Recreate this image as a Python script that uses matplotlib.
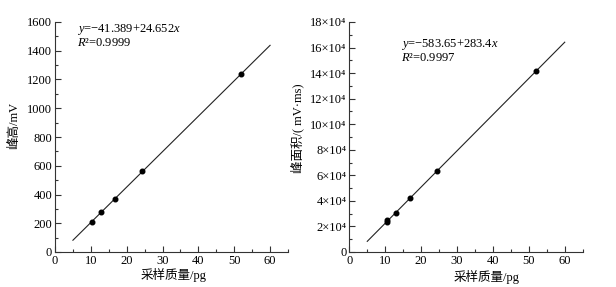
import matplotlib
matplotlib.use("Agg")
import matplotlib.pyplot as plt
import numpy as np
from matplotlib.ticker import MultipleLocator, FixedLocator, FixedFormatter

plt.rcParams['font.family'] = ['Liberation Serif', 'Noto Sans CJK SC', 'DejaVu Sans']
plt.rcParams['mathtext.fontset'] = 'custom'
plt.rcParams['mathtext.rm'] = 'Liberation Serif'
plt.rcParams['mathtext.it'] = 'Liberation Serif:italic'

# Data
mass_h = [10.3, 12.8, 16.7, 24.4, 51.9]
height = [212, 275, 370, 566, 1238]
mass_a = [10.4, 10.4, 12.9, 16.8, 24.4, 52.1]
area = [23500, 25200, 30300, 42300, 63400, 141400]

fit_x = [5, 60]
h_intercept, h_slope = -41.389, 24.652
a_intercept, a_slope = -583.65, 283.4  # equation in units of 10 mV·ms

x_ticks = [0, 10, 20, 30, 40, 50, 60]
h_ticks = [0, 200, 400, 600, 800, 1000, 1200, 1400, 1600]
a_ticks = [0, 20000, 40000, 60000, 80000, 100000, 120000, 140000, 160000, 180000]
a_ticklabels = ['0'] + [f'{v // 10000}×10⁴' for v in a_ticks[1:]]

xlabel = '采样质量/pg'
ylabel_h = '峰高/mV'
ylabel_a = '峰面积/( mV·ms)'
eq_h = r'$y$=−41.389+24.652$x$' + '\n' + r'$R$²=0.9999'
eq_a = r'$y$=−583.65+283.4$x$' + '\n' + r'$R$²=0.9997'

fig = plt.figure(figsize=(6.16, 2.87), dpi=100)
ax1 = fig.add_axes([55/616, 1-252/287, 233/616, 230/287])
ax2 = fig.add_axes([349.3/616, 1-252/287, 233.4/616, 230/287])

fs = 9
for ax in (ax1, ax2):
    ax.spines['top'].set_visible(False)
    ax.spines['right'].set_visible(False)
    for s in ('left', 'bottom'):
        ax.spines[s].set_linewidth(0.8)
        ax.spines[s].set_color('#333333')
    ax.set_xlim(0, 65)
    ax.xaxis.set_major_locator(FixedLocator(x_ticks))
    ax.xaxis.set_minor_locator(MultipleLocator(5))
    ax.tick_params(which='major', direction='in', length=4, width=0.8, labelsize=fs, colors='#333333', labelcolor='black')
    ax.tick_params(which='minor', direction='in', length=2.5, width=0.8, colors='#333333')
    ax.tick_params(axis='y', pad=2)
    ax.tick_params(axis='x', pad=2)

# Left: peak height
xs = np.array(fit_x, dtype=float)
ax1.plot(xs, h_intercept + h_slope * xs, color='#222222', lw=0.8)
ax1.plot(mass_h, height, 'o', color='black', ms=3.3)
ax1.set_ylim(0, 1600)
ax1.yaxis.set_major_locator(FixedLocator(h_ticks))
ax1.yaxis.set_minor_locator(MultipleLocator(100))
ax1.text(6.2, 1505, eq_h, fontsize=fs, va='center', ha='left', linespacing=1.0)
ax1.text(0.51, -0.10, xlabel, transform=ax1.transAxes, ha='center', va='center', fontsize=fs)
ax1.text(-0.176, 0.55, ylabel_h, transform=ax1.transAxes, ha='center', va='center',
         rotation=90, fontsize=fs)

# Right: peak area
ax2.plot(xs, 10 * (a_intercept + a_slope * xs), color='#222222', lw=0.8)
ax2.plot(mass_a, area, 'o', color='black', ms=3.3)
ax2.set_ylim(0, 180000)
ax2.yaxis.set_major_locator(FixedLocator(a_ticks))
ax2.yaxis.set_major_formatter(FixedFormatter(a_ticklabels))
ax2.yaxis.set_minor_locator(MultipleLocator(10000))
ax2.text(14.4, 158000, eq_a, fontsize=fs, va='center', ha='left', linespacing=1.0)
ax2.text(0.59, -0.11, xlabel, transform=ax2.transAxes, ha='center', va='center', fontsize=fs)
ax2.text(-0.224, 0.54, ylabel_a, transform=ax2.transAxes, ha='center', va='center',
         rotation=90, fontsize=fs)

fig.savefig('out.png', dpi=100)
